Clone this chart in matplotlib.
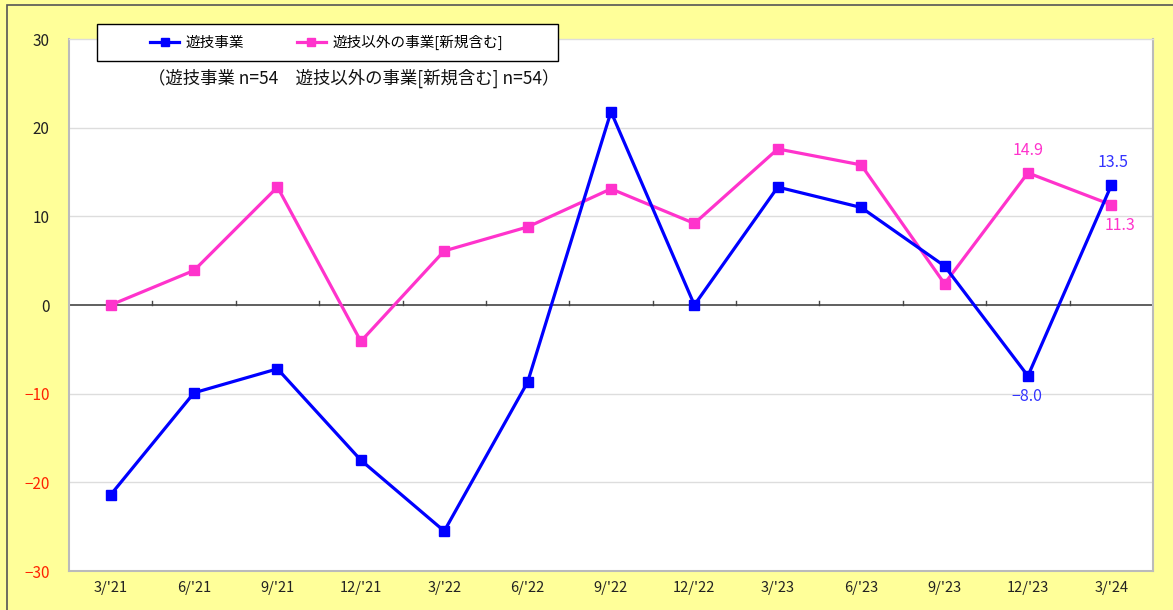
import matplotlib.pyplot as plt
import numpy as np
from matplotlib.patches import Rectangle

plt.rcParams['font.family'] = ['Noto Sans CJK JP', 'DejaVu Sans']

quarters = ["3/'21", "6/'21", "9/'21", "12/'21", "3/'22", "6/'22", "9/'22",
            "12/'22", "3/'23", "6/'23", "9/'23", "12/'23", "3/'24"]
yugi = [-21.4, -9.9, -7.2, -17.5, -25.5, -8.7, 21.8, 0.0, 13.3, 11.0, 4.4, -8.0, 13.5]
other = [0.0, 3.9, 13.3, -4.1, 6.1, 8.8, 13.1, 9.2, 17.6, 15.8, 2.4, 14.9, 11.3]
yticks = [30, 20, 10, 0, -10, -20, -30]

blue = '#0000FF'
pink = '#FF33CC'
W, H = 1173, 610

fig = plt.figure(figsize=(W/100, H/100), dpi=100)
fig.patch.set_facecolor('#FFFF99')
# outer frame (runs off the right and bottom edge)
fig.patches.append(Rectangle((7/W, -0.02), 1.05, 1 - 5/H + 0.02, transform=fig.transFigure,
                             fill=False, edgecolor='#555555', linewidth=1.2))

ax = fig.add_axes([69/W, 39/H, 1084/W, 532/H])
ax.set_facecolor('white')
x = np.arange(len(quarters))

l1, = ax.plot(x, yugi, color=blue, lw=2.3, marker='s', ms=7, label='遊技事業', zorder=4)
l2, = ax.plot(x, other, color=pink, lw=2.3, marker='s', ms=7, label='遊技以外の事業[新規含む]', zorder=3)

ax.set_xlim(-0.5, len(quarters) - 0.5)
ax.set_ylim(-30, 30)
ax.set_yticks(yticks)
ax.set_yticklabels([str(v) if v >= 0 else '−' + str(-v) for v in yticks], fontsize=11)
for lab, v in zip(ax.get_yticklabels(), yticks):
    lab.set_color('#FF2200' if v < 0 else '#222222')
ax.set_xticks(x)
ax.set_xticklabels(quarters, fontsize=10.5, color='#222222')
ax.tick_params(axis='both', length=0)
ax.tick_params(axis='y', pad=14)
ax.tick_params(axis='x', pad=7)

for v in [10, 20, -10, -20]:
    ax.axhline(v, color='#DDDDDD', lw=1, zorder=1)
ax.axhline(0, color='#444444', lw=1.2, zorder=2)
# category separators on the zero line
for b in np.arange(0.5, len(quarters) - 0.5, 1.0):
    ax.plot([b, b], [0, 0.45], color='#444444', lw=1, zorder=2)

for s in ax.spines.values():
    s.set_color('#BBBBBB')
    s.set_linewidth(1.5)
ax.spines['top'].set_color('#DDDDDD')
ax.spines['top'].set_linewidth(1)

# value labels on the last two quarters
ax.annotate(f'{other[11]:.1f}', (x[11], other[11]), xytext=(0, 10), textcoords='offset points',
            ha='center', va='bottom', color=pink, fontsize=11.5)
ax.annotate(f'{yugi[12]:.1f}', (x[12], yugi[12]), xytext=(1, 10), textcoords='offset points',
            ha='center', va='bottom', color='#3333FF', fontsize=11.5)
ax.annotate(f'{other[12]:.1f}', (x[12], other[12]), xytext=(6, -9), textcoords='offset points',
            ha='center', va='top', color=pink, fontsize=11.5)
ax.annotate(f'−{abs(yugi[11]):.1f}', (x[11], yugi[11]), xytext=(-1, -9), textcoords='offset points',
            ha='center', va='top', color='#3333FF', fontsize=11.5)

# legend box above the plot area
fig.patches.append(Rectangle((97/W, 1 - 61/H), 461/W, 37/H, transform=fig.transFigure,
                             facecolor='white', edgecolor='black', linewidth=1, zorder=9))
leg = fig.legend(handles=[l1, l2], loc='center left', bbox_to_anchor=(150/W, 1 - 42.5/H),
                 ncol=2, fontsize=10.5, frameon=False, handlelength=2.0, handletextpad=0.45,
                 columnspacing=3.6, borderaxespad=0, borderpad=0, markerscale=0.8)
leg.set_zorder(10)

fig.text(148/W, 1 - 78/H, '（遊技事業 n=54　遊技以外の事業[新規含む] n=54）',
         fontsize=12.5, va='center', ha='left', color='#111111')

fig.savefig('out.png', dpi=100, facecolor=fig.get_facecolor())
